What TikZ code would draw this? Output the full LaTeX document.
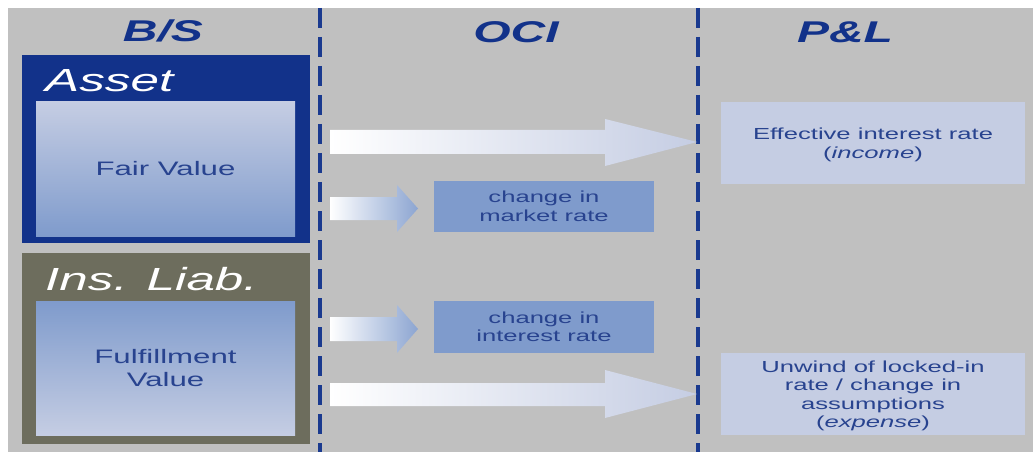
\documentclass[tikz,border=0pt]{standalone}
\usepackage{fontspec}
\setmainfont{Liberation Sans}[FakeStretch=1.6]
\definecolor{panelgray}{HTML}{C0C0C0}
\definecolor{navy}{HTML}{12328A}
\definecolor{olive}{HTML}{6D6D5D}
\definecolor{palebox}{HTML}{C5CDE3}
\definecolor{midbox}{HTML}{7F9BCC}
\definecolor{inktext}{HTML}{28438F}
\definecolor{divider}{HTML}{1A3A8F}
\begin{document}
\begin{tikzpicture}[x=1pt,y=-1pt,
  box/.style={anchor=north west,inner sep=0pt,outer sep=0pt},
  header/.style={anchor=base,text=navy,font=\fontsize{30}{32}\selectfont\bfseries\itshape},
  title/.style={anchor=base west,inner sep=0pt,text=white,font=\fontsize{32}{34}\selectfont\itshape},
  bigtext/.style={align=center,text=inktext,font=\fontsize{19.5}{23}\selectfont},
  smalltext/.style={align=center,text=inktext,font=\fontsize{16}{18.5}\selectfont},
  divline/.style={draw=divider,line width=3.5pt,dash pattern=on 20pt off 9pt}]
\useasboundingbox (0,0) rectangle (1035,457);
\fill[white] (0,0) rectangle (1035,457);
\fill[panelgray] (8,8) rectangle (1033,452);

% column dividers
\coordinate (d1top) at (320,8);
\coordinate (d1bot) at (320,452);
\coordinate (d2top) at (698,8);
\coordinate (d2bot) at (698,452);
\draw[divline] (d1top) -- (d1bot);
\draw[divline] (d2top) -- (d2bot);

% column headers
\node[header] (bs) at (163,42) {B/S};
\node[header] (oci) at (516,43) {OCI};
\node[header] (pl) at (845,43) {P\&L};

% balance sheet: asset
\node[box,fill=navy,minimum width=288pt,minimum height=188pt] (asset) at (22,55) {};
\node[title] (assetlbl) at (45,92) {Asset};
\node[box,top color=palebox,bottom color=midbox,minimum width=259pt,minimum height=134pt] (fv) at (36,102) {};
\node[bigtext] (fvtext) at (fv.center) {Fair Value};

% balance sheet: insurance liability
\node[box,fill=olive,minimum width=288pt,minimum height=191pt] (liab) at (22,253) {};
\node[title] (liablbl) at (45,290) {Ins. Liab.};
\node[box,top color=midbox,bottom color=palebox,minimum width=259pt,minimum height=134pt] (ffv) at (36,301) {};
\node[bigtext] (ffvtext) at (ffv.center) {Fulfillment\\Value};

% OCI boxes
\node[box,fill=midbox,minimum width=220pt,minimum height=51pt] (mkt) at (434,181) {};
\node[smalltext] (mkttext) at (mkt.center) {change in\\market rate};
\node[box,fill=midbox,minimum width=220pt,minimum height=52pt] (irt) at (434,301) {};
\node[smalltext] (irttext) at (irt.center) {change in\\interest rate};

% P&L boxes
\node[box,fill=palebox,minimum width=304pt,minimum height=82pt] (eir) at (721,102) {};
\node[smalltext] (eirtext) at ([yshift=-2pt]eir.center) {Effective interest rate\\(\textit{income})};
\node[box,fill=palebox,minimum width=304pt,minimum height=82pt] (unw) at (721,353) {};
\node[smalltext] (unwtext) at ([yshift=-2pt]unw.center) {Unwind of locked-in\\rate / change in\\assumptions\\(\textit{expense})};

% block arrows
\shade[left color=white,right color=palebox]
  (330,130) -- (605,130) -- (605,119) -- (697,142) -- (605,166) -- (605,154) -- (330,154) -- cycle;
\shade[left color=white,right color=midbox!90!white]
  (330,197) -- (397,197) -- (397,185) -- (418,208.5) -- (397,232) -- (397,220) -- (330,220) -- cycle;
\shade[left color=white,right color=midbox!90!white]
  (330,317) -- (397,317) -- (397,305) -- (418,329) -- (397,353) -- (397,341) -- (330,341) -- cycle;
\shade[left color=white,right color=palebox]
  (330,383) -- (605,383) -- (605,370) -- (697,394) -- (605,418) -- (605,406) -- (330,406) -- cycle;
\end{tikzpicture}
\end{document}
